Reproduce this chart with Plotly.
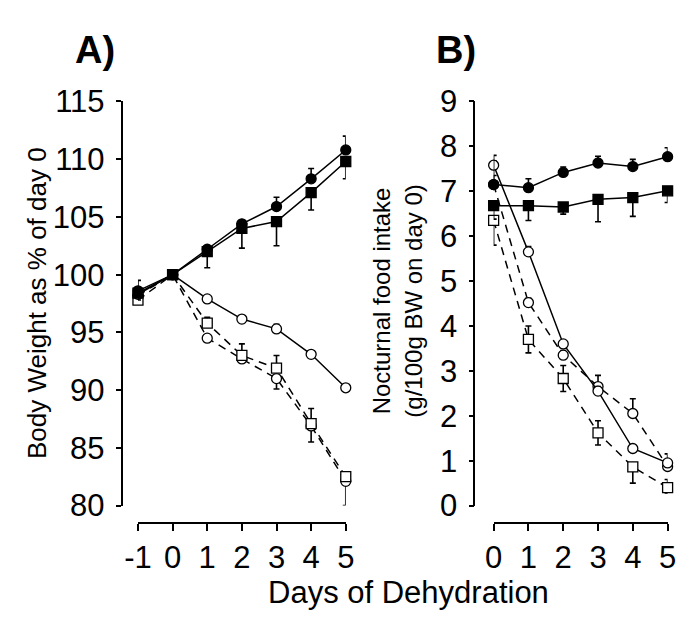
import plotly.graph_objects as go

# ---------------- data ----------------
days_a = [-1, 0, 1, 2, 3, 4, 5]
days_b = [0, 1, 2, 3, 4, 5]
xticks_a = ["-1", "0", "1", "2", "3", "4", "5"]
xticks_b = ["0", "1", "2", "3", "4", "5"]
yticks_a = [80, 85, 90, 95, 100, 105, 110, 115]
yticks_b = [0, 1, 2, 3, 4, 5, 6, 7, 8, 9]

# Panel A: body weight as % of day 0
bw_ctrl_circle = [98.6, 100.0, 102.2, 104.4, 105.9, 108.3, 110.8]
bw_ctrl_circle_up = [0.9, 0, 0.3, 0.3, 0.8, 0.9, 1.2]
bw_ctrl_circle_dn = [0, 0, 0, 0, 0, 0, 0]

bw_ctrl_square = [98.4, 100.0, 102.0, 104.0, 104.6, 107.1, 109.8]
bw_ctrl_square_up = [0, 0, 0, 0, 0, 0, 0]
bw_ctrl_square_dn = [0.6, 0, 1.4, 1.7, 2.1, 1.5, 1.5]

bw_dh_circle_solid = [98.3, 100.0, 97.9, 96.15, 95.3, 93.1, 90.2]
bw_dh_circle_solid_up = [0.5, 0, 0.2, 0.3, 0.4, 0.2, 0.2]
bw_dh_circle_solid_dn = [0, 0, 0, 0.3, 0, 0, 0]

bw_dh_square_dash = [97.8, 100.0, 95.8, 93.0, 91.9, 87.1, 82.5]
bw_dh_square_dash_up = [0.6, 0, 0.5, 1.0, 1.1, 1.3, 0.3]
bw_dh_square_dash_dn = [0, 0, 0, 0, 0, 0, 0]

bw_dh_circle_dash = [98.2, 100.0, 94.5, 92.7, 91.0, 86.9, 82.1]
bw_dh_circle_dash_up = [0, 0, 0, 0, 0, 0, 0]
bw_dh_circle_dash_dn = [0.5, 0, 0.2, 0.2, 0.9, 1.4, 2.1]

# Panel B: nocturnal food intake (g/100g BW on day 0)
fi_ctrl_circle = [7.15, 7.08, 7.42, 7.63, 7.55, 7.77]
fi_ctrl_circle_up = [0.65, 0.2, 0.12, 0.15, 0.16, 0.2]
fi_ctrl_circle_dn = [0, 0, 0, 0, 0, 0]

fi_ctrl_square = [6.68, 6.68, 6.65, 6.82, 6.86, 7.01]
fi_ctrl_square_up = [0, 0, 0, 0, 0, 0]
fi_ctrl_square_dn = [0.3, 0.33, 0.16, 0.5, 0.42, 0.26]

fi_dh_circle_solid = [7.58, 5.65, 3.6, 2.55, 1.27, 0.95]
fi_dh_circle_solid_up = [0.1, 0.12, 0.05, 0.1, 0.05, 0.05]
fi_dh_circle_solid_dn = [0, 0, 0, 0, 0, 0]

fi_dh_circle_dash = [7.15, 4.52, 3.35, 2.65, 2.05, 0.87]
fi_dh_circle_dash_up = [0.2, 0.1, 0.1, 0.25, 0.33, 0.28]
fi_dh_circle_dash_dn = [0, 0, 0, 0, 0, 0]

fi_dh_square_dash = [6.35, 3.70, 2.83, 1.62, 0.86, 0.40]
fi_dh_square_dash_up = [0, 0.3, 0.29, 0.27, 0, 0.18]
fi_dh_square_dash_dn = [0.55, 0.3, 0.29, 0.27, 0.36, 0.12]

# ---------------- figure ----------------
W, H = 686, 626
OFF = 8  # default page body margin
FONT = "Liberation Sans, Arial, Helvetica, sans-serif"


def px_x(p):
    return (p - OFF) / W


def px_y(p):
    return 1 - (p - OFF) / H


fig = go.Figure()


def add(x, y, up, dn, symbol, filled, dash, xa, ya):
    fig.add_trace(go.Scatter(
        x=x, y=y, xaxis=xa, yaxis=ya,
        mode="lines+markers",
        cliponaxis=False,
        line=dict(color="black", width=1.5, dash=dash),
        marker=dict(symbol=symbol, size=10,
                    color="black" if filled else "white",
                    line=dict(color="black", width=1.3)),
        error_y=dict(type="data", symmetric=False, array=up, arrayminus=dn,
                     color="black", thickness=1.6, width=3),
        showlegend=False,
        hoverinfo="x+y",
    ))


DASH = "8px,6px"
# Panel A
add(days_a, bw_dh_circle_dash, bw_dh_circle_dash_up, bw_dh_circle_dash_dn, "circle", False, DASH, "x", "y")
add(days_a, bw_dh_square_dash, bw_dh_square_dash_up, bw_dh_square_dash_dn, "square", False, DASH, "x", "y")
add(days_a, bw_dh_circle_solid, bw_dh_circle_solid_up, bw_dh_circle_solid_dn, "circle", False, "solid", "x", "y")
add(days_a, bw_ctrl_circle, bw_ctrl_circle_up, bw_ctrl_circle_dn, "circle", True, "solid", "x", "y")
add(days_a, bw_ctrl_square, bw_ctrl_square_up, bw_ctrl_square_dn, "square", True, "solid", "x", "y")
# Panel B
add(days_b, fi_dh_circle_dash, fi_dh_circle_dash_up, fi_dh_circle_dash_dn, "circle", False, DASH, "x2", "y2")
add(days_b, fi_dh_square_dash, fi_dh_square_dash_up, fi_dh_square_dash_dn, "square", False, DASH, "x2", "y2")
add(days_b, fi_dh_circle_solid, fi_dh_circle_solid_up, fi_dh_circle_solid_dn, "circle", False, "solid", "x2", "y2")
add(days_b, fi_ctrl_square, fi_ctrl_square_up, fi_ctrl_square_dn, "square", True, "solid", "x2", "y2")
add(days_b, fi_ctrl_circle, fi_ctrl_circle_up, fi_ctrl_circle_dn, "circle", True, "solid", "x2", "y2")

tickfont = dict(family=FONT, size=31, color="black")
common_x = dict(showgrid=False, zeroline=False, showline=True, linecolor="black", linewidth=1.5,
                ticks="outside", ticklen=7, tickwidth=1.5, tickcolor="black", tickfont=tickfont,
                anchor="free", position=px_y(536), ticklabelstandoff=0)
common_y = dict(showgrid=False, zeroline=False, showline=True, linecolor="black", linewidth=1.5,
                ticks="outside", ticklen=5, tickwidth=1.5, tickcolor="black", tickfont=tickfont,
                anchor="free", ticklabelstandoff=5,
                domain=[px_y(517), px_y(89)])

fig.update_layout(
    width=W, height=H,
    margin=dict(l=0, r=0, t=0, b=0),
    paper_bgcolor="white", plot_bgcolor="white",
    font=dict(family=FONT, color="black"),
    xaxis=dict(common_x, domain=[px_x(128), px_x(343)], range=[-1, 5],
               tickvals=days_a, ticktext=xticks_a),
    yaxis=dict(common_y, position=px_x(111), range=[80, 115], tickvals=yticks_a),
    xaxis2=dict(common_x, domain=[px_x(496), px_x(676)], range=[0, 5],
                tickvals=days_b, ticktext=xticks_b),
    yaxis2=dict(common_y, position=px_x(476), range=[0, 9], tickvals=yticks_b),
    annotations=[
        dict(text="<b>A)</b>", x=px_x(84), y=px_y(35), xref="paper", yref="paper",
             showarrow=False, font=dict(family=FONT, size=38), xanchor="center", yanchor="middle"),
        dict(text="<b>B)</b>", x=px_x(457), y=px_y(35), xref="paper", yref="paper",
             showarrow=False, font=dict(family=FONT, size=38), xanchor="center", yanchor="middle"),
        dict(text="Body Weight as % of day 0", x=px_x(23), y=px_y(302), xref="paper", yref="paper",
             showarrow=False, textangle=-90, font=dict(family=FONT, size=26),
             xanchor="center", yanchor="middle"),
        dict(text="Nocturnal food intake<br>(g/100g BW on day 0)", x=px_x(396), y=px_y(300),
             xref="paper", yref="paper", showarrow=False, textangle=-90,
             font=dict(family=FONT, size=24), xanchor="center", yanchor="middle"),
        dict(text="Days of Dehydration", x=px_x(408), y=px_y(609), xref="paper", yref="paper",
             showarrow=False, font=dict(family=FONT, size=31), xanchor="center", yanchor="middle"),
    ],
)

fig.write_html("out.html")
